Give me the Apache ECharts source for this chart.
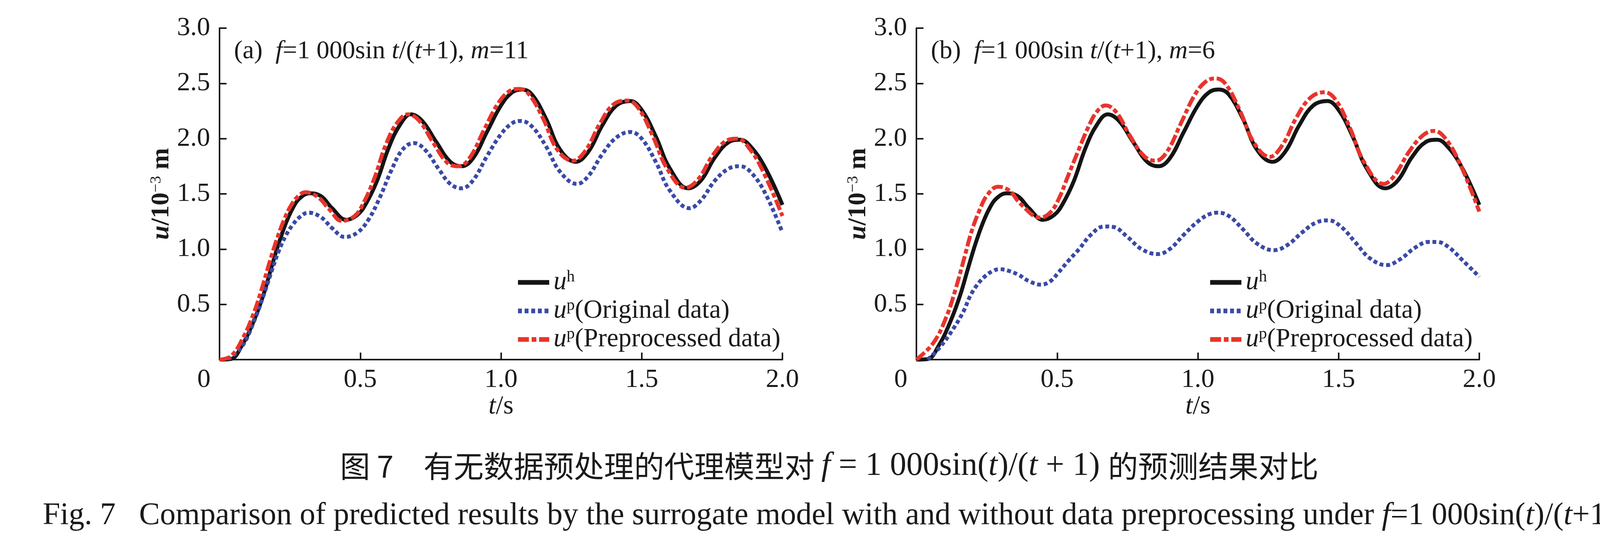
<!DOCTYPE html>
<html>
<head>
<meta charset="utf-8">
<title>Fig. 7</title>
<script src="https://cdn.jsdelivr.net/npm/echarts@6/dist/echarts.min.js"></script>
<style>
  html, body { margin: 0; padding: 0; background: #fff; }
  #main { width: 4213px; height: 1402px; }
</style>
</head>
<body>
<div id="main"></div>
<script>
// ---- data (t in s, u in 1e-3 m) ----
// u^h (same reference curve in both panels)
var tUh = [0, 0.04, 0.08, 0.12, 0.155, 0.185, 0.21, 0.235, 0.26, 0.285, 0.32, 0.36, 0.40, 0.45, 0.49, 0.52, 0.56, 0.60, 0.64, 0.68, 0.72, 0.77, 0.82, 0.86, 0.90, 0.95, 1.00, 1.04, 1.075, 1.11, 1.16, 1.21, 1.265, 1.31, 1.36, 1.41, 1.46, 1.50, 1.55, 1.60, 1.665, 1.71, 1.76, 1.81, 1.85, 1.89, 1.94, 2.0];
var uh  = [0, 0.005, 0.13, 0.34, 0.58, 0.84, 1.05, 1.23, 1.37, 1.46, 1.505, 1.48, 1.37, 1.265, 1.31, 1.41, 1.62, 1.91, 2.12, 2.22, 2.16, 1.97, 1.79, 1.75, 1.82, 2.06, 2.30, 2.42, 2.445, 2.40, 2.18, 1.90, 1.79, 1.88, 2.12, 2.30, 2.34, 2.26, 2.02, 1.73, 1.55, 1.62, 1.83, 1.97, 1.99, 1.92, 1.73, 1.40];

// (a) m=11, original data
var tOrigA  = [0.03, 0.08, 0.12, 0.155, 0.185, 0.21, 0.235, 0.26, 0.285, 0.315, 0.36, 0.40, 0.445, 0.49, 0.53, 0.57, 0.61, 0.65, 0.69, 0.73, 0.78, 0.82, 0.86, 0.90, 0.95, 1.00, 1.04, 1.07, 1.11, 1.16, 1.21, 1.27, 1.31, 1.36, 1.41, 1.46, 1.50, 1.55, 1.60, 1.67, 1.71, 1.76, 1.81, 1.85, 1.89, 1.94, 2.0];
var upOrigA = [0, 0.12, 0.33, 0.57, 0.80, 0.98, 1.12, 1.22, 1.29, 1.33, 1.29, 1.19, 1.11, 1.15, 1.27, 1.47, 1.71, 1.90, 1.96, 1.90, 1.72, 1.59, 1.55, 1.62, 1.84, 2.04, 2.14, 2.16, 2.11, 1.93, 1.70, 1.59, 1.66, 1.86, 2.01, 2.06, 2.00, 1.79, 1.53, 1.37, 1.44, 1.62, 1.73, 1.75, 1.69, 1.50, 1.15];

// (a) m=11, preprocessed data
var tPreA  = [0, 0.04, 0.08, 0.12, 0.15, 0.18, 0.205, 0.23, 0.255, 0.28, 0.305, 0.35, 0.39, 0.435, 0.48, 0.51, 0.55, 0.59, 0.63, 0.67, 0.71, 0.76, 0.81, 0.85, 0.89, 0.94, 0.99, 1.03, 1.065, 1.10, 1.15, 1.20, 1.255, 1.30, 1.35, 1.40, 1.45, 1.49, 1.54, 1.59, 1.655, 1.70, 1.75, 1.80, 1.84, 1.88, 1.93, 2.0];
var upPreA = [0, 0.03, 0.18, 0.41, 0.64, 0.90, 1.10, 1.27, 1.40, 1.48, 1.515, 1.47, 1.36, 1.255, 1.30, 1.41, 1.64, 1.94, 2.14, 2.22, 2.16, 1.96, 1.78, 1.75, 1.83, 2.08, 2.32, 2.43, 2.45, 2.40, 2.18, 1.90, 1.80, 1.89, 2.13, 2.31, 2.345, 2.27, 2.02, 1.73, 1.555, 1.63, 1.84, 1.98, 2.00, 1.92, 1.71, 1.30];

// (b) m=6, original data
var tOrigB  = [0.04, 0.083, 0.13, 0.168, 0.19, 0.214, 0.242, 0.27, 0.295, 0.326, 0.363, 0.40, 0.443, 0.476, 0.504, 0.541, 0.578, 0.62, 0.667, 0.70, 0.75, 0.80, 0.857, 0.90, 0.95, 1.00, 1.04, 1.07, 1.11, 1.16, 1.21, 1.27, 1.32, 1.37, 1.42, 1.465, 1.51, 1.56, 1.61, 1.67, 1.72, 1.77, 1.82, 1.85, 1.89, 1.94, 2.0];
var upOrigB = [0, 0.11, 0.275, 0.44, 0.57, 0.67, 0.75, 0.80, 0.818, 0.805, 0.767, 0.71, 0.678, 0.71, 0.786, 0.897, 1.00, 1.13, 1.205, 1.20, 1.11, 1.00, 0.955, 1.00, 1.13, 1.25, 1.315, 1.33, 1.30, 1.18, 1.05, 0.99, 1.04, 1.15, 1.24, 1.26, 1.20, 1.06, 0.92, 0.855, 0.91, 1.01, 1.065, 1.065, 1.02, 0.90, 0.75];

// (b) m=6, preprocessed data
var tPreB  = [0, 0.06, 0.107, 0.14, 0.168, 0.196, 0.224, 0.252, 0.29, 0.33, 0.37, 0.44, 0.475, 0.505, 0.54, 0.575, 0.61, 0.64, 0.672, 0.71, 0.76, 0.81, 0.85, 0.89, 0.94, 0.99, 1.03, 1.065, 1.10, 1.15, 1.20, 1.255, 1.30, 1.35, 1.40, 1.45, 1.49, 1.54, 1.59, 1.66, 1.70, 1.75, 1.80, 1.84, 1.88, 1.93, 2.0];
var upPreB = [0, 0.15, 0.39, 0.645, 0.90, 1.16, 1.35, 1.49, 1.565, 1.53, 1.41, 1.285, 1.33, 1.45, 1.67, 1.89, 2.10, 2.24, 2.30, 2.24, 2.02, 1.84, 1.80, 1.88, 2.14, 2.40, 2.52, 2.545, 2.49, 2.25, 1.96, 1.835, 1.94, 2.19, 2.37, 2.42, 2.35, 2.10, 1.79, 1.59, 1.67, 1.88, 2.03, 2.07, 2.00, 1.78, 1.34];

var xTicks = [0, 0.5, 1.0, 1.5, 2.0];
var yTicks = [0, 0.5, 1.0, 1.5, 2.0, 2.5, 3.0];
var seriesNames = ['uh', 'upOrig', 'upPre'];
var panelTitles = [
  ['(a)  ', 'f', '=1 000sin ', 't', '/(', 't', '+1), ', 'm', '=11'],
  ['(b)  ', 'f', '=1 000sin ', 't', '/(', 't', '+1), ', 'm', '=6']
];

var SERIF = '"Liberation Serif", "Times New Roman", serif';
var CJK = '"Noto Sans CJK SC", sans-serif';
var INK = '#1a1a1a';

function pairs(ts, us) {
  var out = [];
  for (var i = 0; i < ts.length; i++) out.push([ts[i], us[i]]);
  return out;
}

// title pieces: odd indices are italic
function titleRich(parts) {
  var s = '';
  for (var i = 0; i < parts.length; i++) {
    s += (i % 2 === 1 ? '{i|' : '{n|') + parts[i] + '}';
  }
  return s;
}

function richSet(size, supSize, supLift) {
  return {
    n: { fontFamily: SERIF, fontSize: size, color: INK, fontWeight: 'normal' },
    i: { fontFamily: SERIF, fontSize: size, color: INK, fontStyle: 'italic', fontWeight: 'normal' },
    s: { fontFamily: SERIF, fontSize: supSize, color: INK, fontWeight: 'normal', padding: [0, 0, supLift, 0] }
  };
}

var gridLeft = [562, 2346];
var legendLeft = [1315, 3087];
var grids = [], xAxes = [], yAxes = [], series = [], legends = [], titles = [];

for (var p = 0; p < 2; p++) {
  grids.push({ left: gridLeft[p], top: 72, width: 1441, height: 848, outerBoundsMode: 'none' });

  xAxes.push({
    gridIndex: p, type: 'value', min: xTicks[0], max: xTicks[xTicks.length - 1], interval: 0.5,
    name: '{i|t}{n|/s}', nameLocation: 'middle', nameGap: 86, nameMoveOverlap: false,
    nameTextStyle: { rich: richSet(68, 40, 28) },
    axisLine: { show: true, onZero: false, lineStyle: { color: INK, width: 4 } },
    axisTick: { show: true, inside: true, length: 18, lineStyle: { color: INK, width: 4 } },
    splitLine: { show: false },
    axisLabel: {
      margin: 18, fontFamily: SERIF, fontSize: 68, color: INK,
      formatter: function (v) { return v === 0 ? '{z|0}' : v.toFixed(1); },
      rich: { z: { fontFamily: SERIF, fontSize: 68, color: INK, padding: [0, 80, 0, 0] } }
    }
  });

  yAxes.push({
    gridIndex: p, type: 'value', min: yTicks[0], max: yTicks[yTicks.length - 1], interval: 0.5,
    name: '{i|u}{n|/10}{s|−3}{n| m}', nameLocation: 'middle', nameRotate: 90, nameGap: 114, nameMoveOverlap: false,
    nameTextStyle: { rich: {
      n: { fontFamily: SERIF, fontSize: 66, color: INK, fontWeight: 'bold' },
      i: { fontFamily: SERIF, fontSize: 66, color: INK, fontWeight: 'bold', fontStyle: 'italic' },
      s: { fontFamily: SERIF, fontSize: 40, color: INK, padding: [0, 0, 28, 0] }
    } },
    axisLine: { show: true, lineStyle: { color: INK, width: 4 } },
    axisTick: { show: true, inside: true, length: 18, lineStyle: { color: INK, width: 4 } },
    splitLine: { show: false },
    axisLabel: {
      margin: 24, fontFamily: SERIF, fontSize: 68, color: INK,
      formatter: function (v) { return v === 0 ? '' : v.toFixed(1); }
    }
  });

  var orig = p === 0 ? pairs(tOrigA, upOrigA) : pairs(tOrigB, upOrigB);
  var pre = p === 0 ? pairs(tPreA, upPreA) : pairs(tPreB, upPreB);

  series.push({
    name: seriesNames[0], type: 'line', xAxisIndex: p, yAxisIndex: p,
    data: pairs(tUh, uh), smooth: 0.4, symbol: 'none', showSymbol: false, z: 2,
    lineStyle: { color: '#141414', width: 10 }, itemStyle: { color: '#141414' }
  });
  series.push({
    name: seriesNames[1], type: 'line', xAxisIndex: p, yAxisIndex: p,
    data: orig, smooth: 0.4, symbol: 'none', showSymbol: false, z: 3,
    lineStyle: { color: '#3a4aa6', width: 10, type: [10, 7], cap: 'butt' }, itemStyle: { color: '#3a4aa6' }
  });
  series.push({
    name: seriesNames[2], type: 'line', xAxisIndex: p, yAxisIndex: p,
    data: pre, smooth: 0.4, symbol: 'none', showSymbol: false, z: 4,
    lineStyle: { color: '#e8342b', width: 10, type: [28, 7, 12, 7], cap: 'butt' }, itemStyle: { color: '#e8342b' }
  });

  legends.push({
    orient: 'vertical', left: legendLeft[p], top: 681,
    itemWidth: 80, itemHeight: 14, itemGap: 0,
    data: seriesNames, selectedMode: false,
    lineStyle: { width: 12, cap: 'butt' },
    itemStyle: { opacity: 0 },
    formatter: function (name) {
      if (name === 'uh') return '{i|u}{s|h}';
      if (name === 'upOrig') return '{i|u}{s|p}{n|(Original data)}';
      return '{i|u}{s|p}{n|(Preprocessed data)}';
    },
    textStyle: { lineHeight: 73, padding: [0, 0, 0, 6], rich: richSet(67, 42, 28) }
  });

  titles.push({
    text: titleRich(panelTitles[p]),
    left: gridLeft[p] + 32, top: 94,
    textStyle: { fontWeight: 'normal', rich: richSet(66, 40, 28) }
  });
}

var chart = echarts.init(document.getElementById('main'));
var option = {
  backgroundColor: '#fff',
  animation: false,
  title: titles,
  legend: legends,
  grid: grids,
  xAxis: xAxes,
  yAxis: yAxes,
  series: series,
  graphic: [
    {
      type: 'text', x: 2123, y: 1193,
      style: {
        text: '{c|图 7　有无数据预处理的代理模型对 }{i|f}{n| = 1 000sin(}{i|t}{n|)/(}{i|t}{n| + 1) }{c|的预测结果对比}',
        align: 'center', verticalAlign: 'middle',
        rich: {
          c: { fontFamily: CJK, fontSize: 77, fill: INK },
          n: { fontFamily: SERIF, fontSize: 84, fill: INK },
          i: { fontFamily: SERIF, fontSize: 84, fill: INK, fontStyle: 'italic' }
        }
      }
    },
    {
      type: 'text', x: 2123, y: 1320,
      style: {
        text: '{n|Fig. 7   Comparison of predicted results by the surrogate model with and without data preprocessing under }{i|f}{n|=1 000sin(}{i|t}{n|)/(}{i|t}{n|+1)}',
        align: 'center', verticalAlign: 'middle',
        rich: {
          n: { fontFamily: SERIF, fontSize: 80, fill: INK },
          i: { fontFamily: SERIF, fontSize: 80, fill: INK, fontStyle: 'italic' }
        }
      }
    }
  ]
};

if (option && typeof option === 'object') {
  chart.setOption(option, true);
}
</script>
</body>
</html>
